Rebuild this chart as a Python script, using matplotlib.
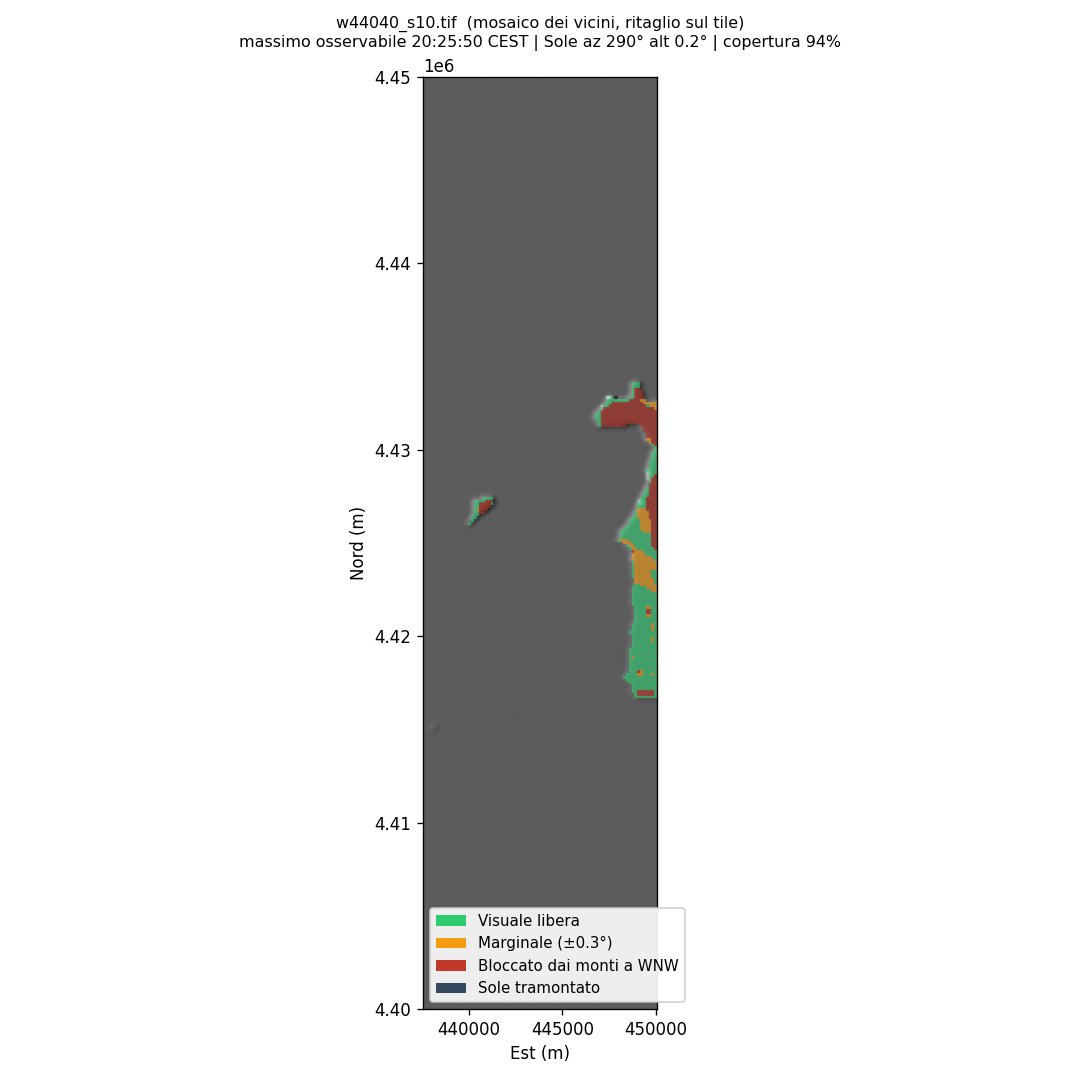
import numpy as np
import matplotlib
matplotlib.use("Agg")
import matplotlib.pyplot as plt
from matplotlib.colors import ListedColormap
from matplotlib.patches import Patch
from matplotlib.path import Path

# legenda
etichette = ["Visuale libera", "Marginale (±0.3°)", "Bloccato dai monti a WNW", "Sole tramontato"]
colori = ["#2ecc71", "#f39c12", "#c0392b", "#34495e"]

titolo = ("w44040_s10.tif  (mosaico dei vicini, ritaglio sul tile)\n"
          "massimo osservabile 20:25:50 CEST | Sole az 290° alt 0.2° | copertura 94%")

# estensione del tile (m) e passo griglia
est_min, est_max = 437540, 450060
nord_min, nord_max = 4400000, 4450000
passo = 150

# contorni (est, nord)
costa = [(446741, 4431868), (447116, 4432297), (447544, 4432834), (447972, 4432673),
         (448614, 4432834), (448721, 4433585), (449149, 4433585), (449309, 4432673),
         (450100, 4432566), (450100, 4416578), (449790, 4416685), (449256, 4416739),
         (448881, 4416685), (448614, 4417490), (448293, 4417812), (448560, 4418187),
         (448560, 4419099), (448700, 4419600), (448620, 4420172), (448800, 4420800),
         (448800, 4421567), (448650, 4422000), (448720, 4422372), (448800, 4422855),
         (448660, 4424625), (447990, 4425162), (448180, 4425698), (448700, 4426300),
         (449100, 4427147), (449630, 4428220), (449520, 4428917), (449900, 4430100),
         (449523, 4430560), (449149, 4431400), (448239, 4431280), (447700, 4431160),
         (446902, 4431224)]
isola = [(439893, 4425966), (440321, 4426664), (440214, 4427201), (440696, 4427416),
         (441231, 4427416), (441284, 4427630), (441391, 4427201), (441017, 4426771),
         (440589, 4426503), (440214, 4426074)]
scoglio = [(438020, 4415030), (438230, 4415030), (438230, 4415230), (438020, 4415230)]

marginale = [
    [(448079, 4425162), (448721, 4424732), (448881, 4422855), (449951, 4422318),
     (450100, 4422587), (449684, 4423392), (450100, 4423714), (449951, 4424089),
     (449149, 4424625), (448346, 4425269)],
    [(448988, 4426771), (449684, 4427040), (449844, 4425430), (449256, 4425537)],
    [(448988, 4432780), (450100, 4432566), (450100, 4432136), (449309, 4432512)],
]
bloccato = [
    [(447100, 4431150), (447100, 4432136), (447811, 4432600), (449149, 4432700),
     (449309, 4432405), (450100, 4432150), (450100, 4430151), (449900, 4430200),
     (449523, 4430560), (449149, 4431400), (448239, 4431280), (447700, 4431160)],
    [(449684, 4428220), (450100, 4428917), (450100, 4424625), (449790, 4424786),
     (449684, 4426235), (449416, 4427040)],
    [(448881, 4432673), (449309, 4432673), (449309, 4433370), (448881, 4433370)],
    [(440500, 4427200), (441300, 4427300), (441017, 4426700), (440500, 4426500)],
]
# piccole macchie (est0, est1, nord0, nord1)
macchie_marginale = [(449416, 449790, 4430259, 4430634), (449416, 449790, 4421031, 4421567),
                     (449790, 449900, 4420333, 4420709), (449790, 449951, 4419743, 4419958),
                     (448721, 448830, 4418724, 4418992), (448988, 449256, 4417812, 4418241),
                     (449790, 449900, 4417812, 4417950), (440375, 440589, 4426664, 4426932),
                     (449100, 449350, 4426100, 4426400)]
macchie_bloccato = [(449500, 449700, 4421150, 4421400), (449041, 449200, 4417950, 4418200),
                    (449041, 449900, 4416780, 4417114), (448721, 448850, 4424450, 4424580),
                    (449850, 450100, 4427700, 4428300)]
# pixel molto chiari o scuri del rilievo (est0, est1, nord0, nord1, grigio)
rilievo_estremi = [(447350, 447700, 4432700, 4432950, 235), (447750, 447950, 4432700, 4432900, 10),
                   (447000, 447250, 4432200, 4432450, 190), (449000, 449250, 4427000, 4427400, 185),
                   (449500, 449700, 4428400, 4429000, 175)]

# griglia
nx = round((est_max - est_min) / passo)
ny = round((nord_max - nord_min) / passo)
xc = est_min + (np.arange(nx) + 0.5) * (est_max - est_min) / nx
yc = nord_max - (np.arange(ny) + 0.5) * (nord_max - nord_min) / ny
X, Y = np.meshgrid(xc, yc)
punti = np.column_stack([X.ravel(), Y.ravel()])


def dentro(poligono):
    return Path(poligono).contains_points(punti).reshape(X.shape)


def scatola(b):
    return (X >= b[0]) & (X <= b[1]) & (Y >= b[2]) & (Y <= b[3])


terra = dentro(costa) | dentro(isola)
classi = np.full(X.shape, np.nan)
classi[terra] = 0
for p in marginale:
    classi[dentro(p) & terra] = 1
for p in bloccato:
    classi[dentro(p) & terra] = 2
for b in macchie_marginale:
    classi[scatola(b) & terra] = 1
for b in macchie_bloccato:
    classi[scatola(b) & terra] = 2

# rilievo ombreggiato, luce da WNW
quota = np.pad((terra | dentro(scoglio)).astype(float), 1, mode="edge")
quota[1:-1, 1:-1] = (quota[1:-1, 1:-1] * 2 + quota[:-2, 1:-1] + quota[2:, 1:-1]
                     + quota[1:-1, :-2] + quota[1:-1, 2:]) / 6
quota = quota[1:-1, 1:-1]
dy, dx = np.gradient(quota)
ombra = 92 + 100 * (dx * 0.9 + dy * 0.45)
ombra = np.where(terra & (classi == 2), ombra - 22, ombra)
ombra = np.where(terra & (classi != 2), ombra + 8, ombra)
ombra = np.where(Y < 4424000, 92 + (ombra - 92) * 0.4, ombra)
for b in rilievo_estremi:
    ombra[scatola(b[:4])] = b[4]
ombra = np.clip(ombra, 0, 255)

fig = plt.figure(figsize=(9, 9), dpi=120)
ax = fig.add_axes([423 / 1080, 1 - 1009 / 1080, 234 / 1080, 932 / 1080])
estensione = [est_min, est_max, nord_min, nord_max]
ax.imshow(ombra, cmap="gray", vmin=0, vmax=255, extent=estensione, aspect="auto",
          interpolation="bilinear")
ax.imshow(np.ma.masked_invalid(classi), cmap=ListedColormap(colori), vmin=-0.5, vmax=3.5,
          alpha=0.6, extent=estensione, aspect="auto", interpolation="nearest")
ax.set_xlim(est_min, est_max)
ax.set_ylim(nord_min, nord_max)
ax.set_xlabel("Est (m)")
ax.set_ylabel("Nord (m)")
fig.text(540 / 1080, 1 - 33.5 / 1080, titolo, ha="center", va="center", fontsize=9.5)

maniglie = [Patch(facecolor=c, label=e) for c, e in zip(colori, etichette)]
ax.legend(handles=maniglie, loc="lower left", bbox_to_anchor=(-0.003, -0.001), fontsize=9,
          framealpha=0.9)

fig.savefig("out.png", dpi=120)
